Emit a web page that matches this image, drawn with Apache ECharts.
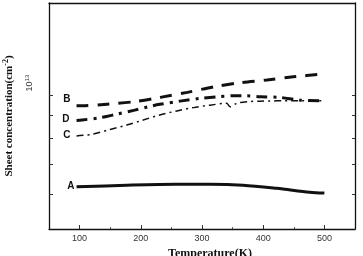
<!DOCTYPE html>
<html><head><meta charset="utf-8">
<script src="https://cdn.jsdelivr.net/npm/echarts@6/dist/echarts.min.js"></script>
<style>html,body{margin:0;padding:0;background:#fff}#c{width:363px;height:256px}</style>
</head><body><div id="c"></div>
<script>
const xTickLabels = [100, 200, 300, 400, 500];
const xMinorTicks = [150, 250, 350, 450];
const yTicks = [6e12, 7e12, 8e12, 9e12, 1e13];
const yTickLabels = [1e13];

const tempA = [95, 177, 258, 313, 367, 422, 476, 500];
const valA  = [6.22e12, 6.27e12, 6.30e12, 6.30e12, 6.27e12, 6.17e12, 6.05e12, 6.02e12];

const tempB = [95, 104, 145, 189, 232, 276, 320, 362, 406, 449, 500];
const valB  = [9.46e12, 9.46e12, 9.54e12, 9.66e12, 9.88e12, 1.014e13, 1.044e13, 1.066e13, 1.081e13, 1.099e13, 1.115e13];

const tempD = [95, 104, 133, 161, 190, 212, 231, 264, 297, 324, 351, 373, 395, 427, 460, 500];
const valD  = [8.77e12, 8.79e12, 8.89e12, 9.06e12, 9.25e12, 9.41e12, 9.53e12, 9.69e12, 9.83e12, 9.91e12, 9.96e12, 9.96e12, 9.91e12, 9.88e12, 9.74e12, 9.71e12];

const tempC = [95, 122, 150, 177, 204, 231, 259, 286, 313, 340, 346, 357, 373, 395, 449, 500];
const valC  = [8.09e12, 8.17e12, 8.37e12, 8.56e12, 8.79e12, 9.02e12, 9.21e12, 9.37e12, 9.49e12, 9.58e12, 9.41e12, 9.58e12, 9.66e12, 9.69e12, 9.71e12, 9.71e12];

function pts(t, v, name, off) {
  return t.map((x, i) => i === 0 ? {
    value: [x, v[i]],
    label: { show: true, position: 'left', formatter: name, offset: off, distance: 2,
      fontFamily: 'Liberation Sans', fontWeight: 'bold', fontSize: 10, color: '#111' }
  } : [x, v[i]]);
}

const chart = echarts.init(document.getElementById('c'), null, { renderer: 'canvas' });
const lineBase = { type: 'line', showSymbol: true, symbol: 'circle', symbolSize: 0, smooth: 0.3, animation: false };
chart.setOption({
  animation: false,
  grid: { left: 49, right: 8, top: 3, bottom: 27, outerBoundsMode: 'none', containLabel: false },
  xAxis: [{
    type: 'value', min: 50, max: 550, interval: 50,
    name: 'Temperature(K)', nameLocation: 'middle', nameGap: 13,
    nameTextStyle: { fontFamily: 'Liberation Serif', fontWeight: 'bold', fontSize: 12, color: '#111', padding: [0, 0, 0, 16] },
    axisLine: { lineStyle: { color: '#111', width: 1.3 } },
    axisTick: { inside: true, length: 4, customValues: xTickLabels, lineStyle: { color: '#333' } },
    axisLabel: { customValues: xTickLabels, fontFamily: 'Liberation Sans', fontSize: 9, color: '#333', margin: 5 },
    splitLine: { show: false }
  }, {
    type: 'value', min: 50, max: 550, position: 'bottom',
    axisLine: { show: false },
    axisTick: { inside: true, length: 2, customValues: xMinorTicks, lineStyle: { color: '#555' } },
    axisLabel: { show: false }, splitLine: { show: false }
  }, {
    type: 'value', min: 50, max: 550, position: 'top',
    axisLine: { lineStyle: { color: '#111', width: 1.3 } },
    axisTick: { show: false }, axisLabel: { show: false }, splitLine: { show: false }
  }],
  yAxis: [{
    type: 'log', min: 5e12, max: 1.61e13, logBase: 10,
    name: 'Sheet concentration(cm{sup|-2})', nameLocation: 'middle', nameGap: 33,
    nameTextStyle: { fontFamily: 'Liberation Serif', fontWeight: 'bold', fontSize: 11, color: '#111',
      rich: { sup: { fontFamily: 'Liberation Serif', fontWeight: 'bold', fontSize: 8, verticalAlign: 'top', padding: [0, 0, 6, 0] } } },
    axisLine: { lineStyle: { color: '#111', width: 1.3 } },
    axisTick: { inside: true, length: 4, customValues: yTicks, lineStyle: { color: '#333' } },
    axisLabel: { customValues: yTickLabels, rotate: 90, margin: 14, fontFamily: 'Liberation Sans', fontSize: 9, color: '#333',
      padding: [0, 0, 0, 24],
      formatter: () => '10{s|13}', rich: { s: { fontSize: 6, fontFamily: 'Liberation Sans', color: '#333', padding: [0, 0, 5, 0] } } },
    splitLine: { show: false }
  }, {
    type: 'log', min: 5e12, max: 1.61e13, position: 'right',
    axisLine: { lineStyle: { color: '#111', width: 1.3 } },
    axisTick: { inside: true, length: 3, customValues: yTicks, lineStyle: { color: '#333' } },
    axisLabel: { show: false }, splitLine: { show: false }
  }],
  series: [
    Object.assign({}, lineBase, { name: 'A', data: pts(tempA, valA, 'A', [0, -1]), lineStyle: { color: '#111', width: 3 } }),
    Object.assign({}, lineBase, { name: 'B', data: pts(tempB, valB, 'B', [-4, -7]), lineStyle: { color: '#111', width: 3, type: [12, 9] } }),
    Object.assign({}, lineBase, { name: 'D', data: pts(tempD, valD, 'D', [-5, -1]), lineStyle: { color: '#111', width: 3, type: [11, 6, 3, 6] } }),
    Object.assign({}, lineBase, { name: 'C', data: pts(tempC, valC, 'C', [-4, -1]), lineStyle: { color: '#111', width: 1.5, type: [7, 4, 2, 4] } })
  ]
});
</script>
</body></html>
